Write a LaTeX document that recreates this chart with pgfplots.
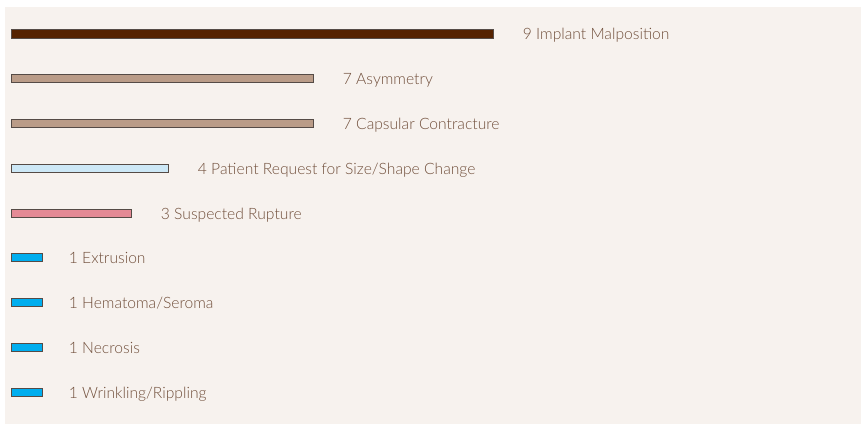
\documentclass[border=0pt]{standalone}
\usepackage{pgfplots}
\pgfplotsset{compat=1.18}
\usepackage{fontspec}
\setmainfont{Lato Light}
\definecolor{bgc}{RGB}{247,242,238}
\definecolor{txt}{RGB}{112,78,58}
\definecolor{c1}{RGB}{85,34,0}
\definecolor{c2}{RGB}{186,156,136}
\definecolor{c3}{RGB}{205,232,246}
\definecolor{c4}{RGB}{228,138,149}
\definecolor{c5}{RGB}{0,174,239}
\definecolor{edge}{RGB}{85,75,70}
\begin{document}
\begin{tikzpicture}
\begin{axis}[
  width=861bp, height=424bp, scale only axis,
  hide axis, clip=false,
  xmin=-11, xmax=850, ymin=0, ymax=424, y dir=reverse,
  xbar, bar width=8, bar shift=0pt,
  every axis plot/.append style={draw=edge, line width=0.8pt, bar shift=0pt},
  nodes near coords style={anchor=base west, inner sep=0pt, xshift=29.5bp, yshift=-6bp,
    font=\fontsize{15.7}{18}\selectfont, text=txt},
]
\path (axis cs:-11,0) rectangle (axis cs:850,424);
\fill[bgc] (axis cs:-6,7) rectangle (axis cs:850,424);
% bar lengths as drawn (pixels from the baseline); counts are in the labels
\addplot[fill=c1, bar width=9, nodes near coords={9 Implant Malposition}] coordinates {(482,34)};
\addplot[fill=c2, nodes near coords={7 Asymmetry}] coordinates {(302,78.75)};
\addplot[fill=c2, nodes near coords={7 Capsular Contracture}] coordinates {(302,123.5)};
\addplot[fill=c3, nodes near coords={4 Patient Request for Size/Shape Change}] coordinates {(157,168.25)};
\addplot[fill=c4, nodes near coords={3 Suspected Rupture}] coordinates {(120,213)};
\addplot[fill=c5, nodes near coords={1 Extrusion}, nodes near coords style={xshift=-3.5bp}] coordinates {(31.5,257.75)};
\addplot[fill=c5, nodes near coords={1 Hematoma/Seroma}, nodes near coords style={xshift=-3.5bp}] coordinates {(31.5,302.5)};
\addplot[fill=c5, nodes near coords={1 Necrosis}, nodes near coords style={xshift=-3.5bp}] coordinates {(31.5,347.25)};
\addplot[fill=c5, nodes near coords={1 Wrinkling/Rippling}, nodes near coords style={xshift=-3.5bp}] coordinates {(31.5,392)};
\end{axis}
\end{tikzpicture}
\end{document}
